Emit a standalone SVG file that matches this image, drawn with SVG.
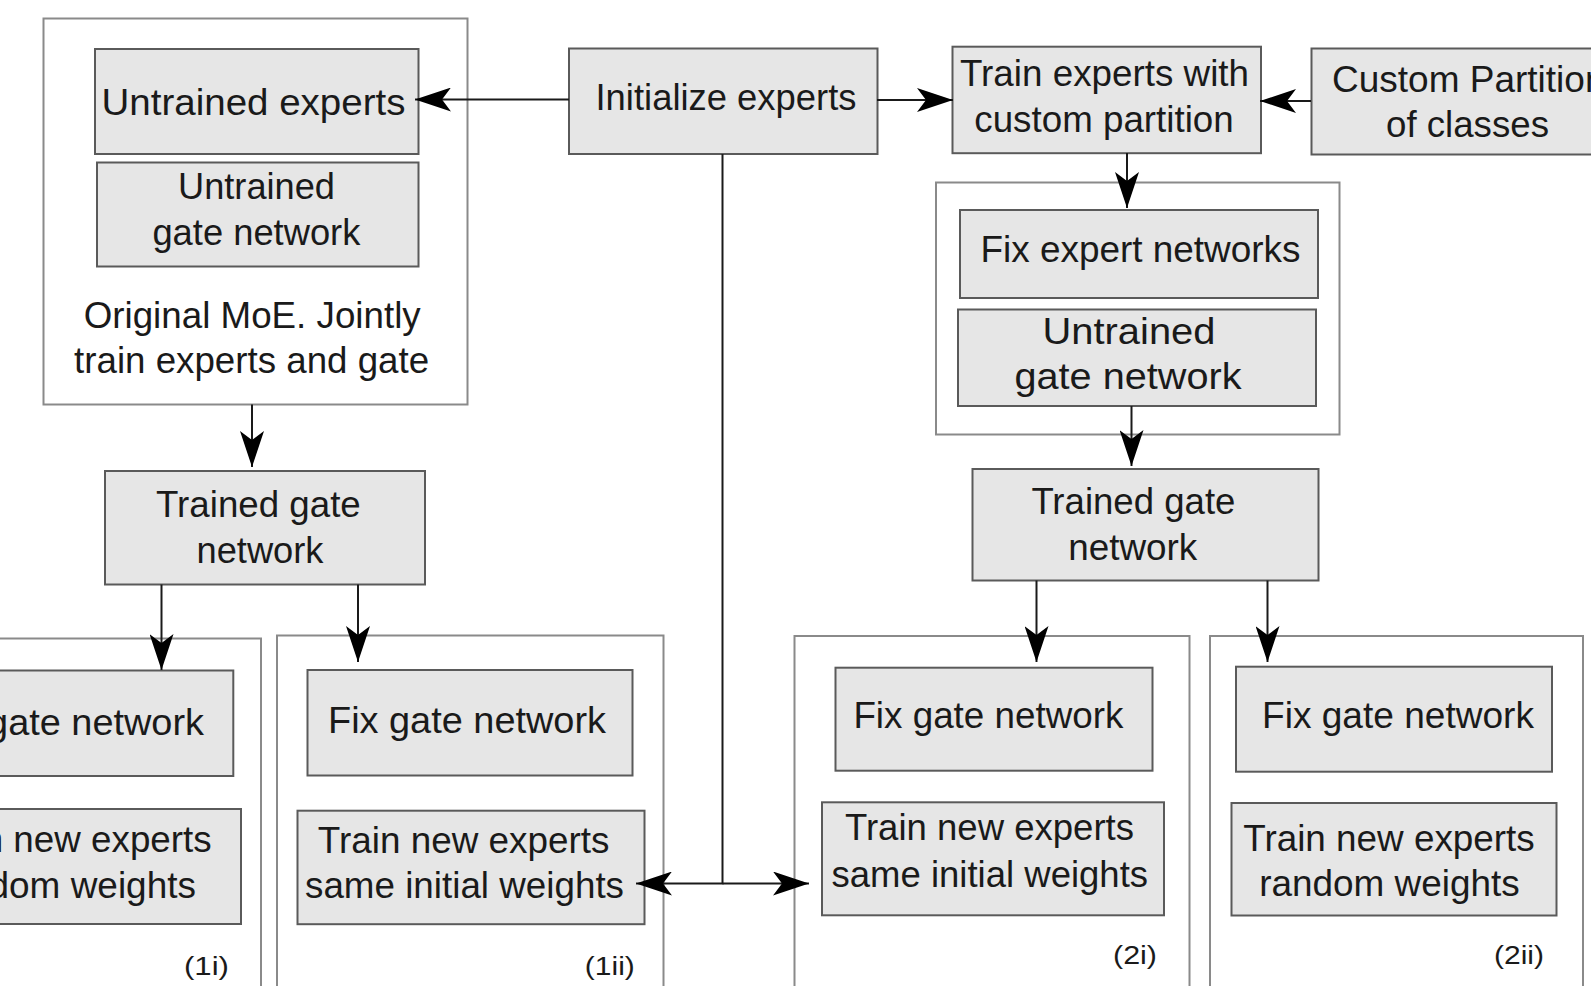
<svg xmlns="http://www.w3.org/2000/svg" width="1591" height="986" viewBox="0 0 1591 986">
<defs>
<style>
.cont{fill:#ffffff;stroke:#8a8a8a;stroke-width:2}
.box{fill:#e6e6e6;stroke:#5a5a5a;stroke-width:2}
.t{font-family:"Liberation Sans",Arial,Helvetica,sans-serif;font-size:37px;fill:#1a1a1a;text-anchor:middle}
.s{font-family:"Liberation Sans",Arial,Helvetica,sans-serif;font-size:26px;fill:#1a1a1a;text-anchor:middle}
.e{text-anchor:end}
.st{text-anchor:start}
.ln{fill:none;stroke:#1a1a1a;stroke-width:2}
</style>
<marker id="ah" markerUnits="userSpaceOnUse" markerWidth="36" markerHeight="24" viewBox="0 0 36 24" refX="36" refY="12" orient="auto">
<path d="M0,0 L36,12 L0,24 L9,12 Z" fill="#000"/>
</marker>
</defs>
<rect width="1591" height="986" fill="#ffffff"/>

<g id="container-original">
<rect class="cont" x="43.5" y="18.5" width="424" height="386"/>
<text class="t" x="252.2" y="328.3" textLength="337" lengthAdjust="spacingAndGlyphs">Original MoE. Jointly</text>
<text class="t" x="251.6" y="373.3" textLength="355" lengthAdjust="spacingAndGlyphs">train experts and gate</text>
</g>
<g id="container-right-top"><rect class="cont" x="936" y="182.5" width="403.5" height="252"/></g>
<g id="container-1i">
<rect class="cont" x="-130" y="638.5" width="391" height="400"/>
<text class="s" x="206.5" y="975" textLength="45" lengthAdjust="spacingAndGlyphs">(1i)</text>
</g>
<g id="container-1ii">
<rect class="cont" x="277" y="635.5" width="386.5" height="400"/>
<text class="s" x="609.8" y="975" textLength="50" lengthAdjust="spacingAndGlyphs">(1ii)</text>
</g>
<g id="container-2i">
<rect class="cont" x="794.5" y="636" width="395" height="400"/>
<text class="s" x="1135" y="963.5" textLength="44" lengthAdjust="spacingAndGlyphs">(2i)</text>
</g>
<g id="container-2ii">
<rect class="cont" x="1210" y="636" width="373" height="400"/>
<text class="s" x="1519" y="963.5" textLength="50" lengthAdjust="spacingAndGlyphs">(2ii)</text>
</g>

<g id="untrained-experts">
<rect class="box" x="95" y="49" width="323.5" height="105"/>
<text class="t" x="253.5" y="115" textLength="304" lengthAdjust="spacingAndGlyphs">Untrained experts</text>
</g>
<g id="untrained-gate-left">
<rect class="box" x="97" y="162.5" width="321.5" height="104"/>
<text class="t" x="256.5" y="199.3" textLength="157" lengthAdjust="spacingAndGlyphs">Untrained</text>
<text class="t" x="256.4" y="245" textLength="208" lengthAdjust="spacingAndGlyphs">gate network</text>
</g>
<g id="initialize-experts">
<rect class="box" x="569" y="48.5" width="308.5" height="105.5"/>
<text class="t" x="726" y="110" textLength="261" lengthAdjust="spacingAndGlyphs">Initialize experts</text>
</g>
<g id="train-experts-custom">
<rect class="box" x="952.5" y="46.7" width="308.5" height="106.5"/>
<text class="t" x="1104.5" y="86" textLength="289" lengthAdjust="spacingAndGlyphs">Train experts with</text>
<text class="t" x="1104" y="131.7" textLength="259.4" lengthAdjust="spacingAndGlyphs">custom partition</text>
</g>
<g id="custom-partition">
<rect class="box" x="1311.5" y="48.5" width="300" height="106"/>
<text class="t st" x="1332" y="92">Custom Partition</text>
<text class="t" x="1467.5" y="137" textLength="163" lengthAdjust="spacingAndGlyphs">of classes</text>
</g>
<g id="fix-expert-networks">
<rect class="box" x="960" y="210" width="358" height="88"/>
<text class="t" x="1140.5" y="261.7" textLength="320" lengthAdjust="spacingAndGlyphs">Fix expert networks</text>
</g>
<g id="untrained-gate-right">
<rect class="box" x="958" y="309.5" width="358" height="96.5"/>
<text class="t" x="1129" y="344" textLength="173" lengthAdjust="spacingAndGlyphs">Untrained</text>
<text class="t" x="1128" y="389" textLength="227" lengthAdjust="spacingAndGlyphs">gate network</text>
</g>
<g id="trained-gate-left">
<rect class="box" x="105" y="471" width="320" height="113.5"/>
<text class="t" x="258.4" y="517" textLength="204.7" lengthAdjust="spacingAndGlyphs">Trained gate</text>
<text class="t" x="260" y="563" textLength="127" lengthAdjust="spacingAndGlyphs">network</text>
</g>
<g id="trained-gate-right">
<rect class="box" x="972.5" y="469" width="346" height="111.5"/>
<text class="t" x="1133.4" y="514" textLength="204" lengthAdjust="spacingAndGlyphs">Trained gate</text>
<text class="t" x="1132.8" y="560" textLength="129" lengthAdjust="spacingAndGlyphs">network</text>
</g>
<g id="fix-gate-1i">
<rect class="box" x="-93" y="670.5" width="326.3" height="105.5"/>
<text class="t e" x="204" y="735" textLength="278" lengthAdjust="spacingAndGlyphs">Fix gate network</text>
</g>
<g id="train-new-1i">
<rect class="box" x="-105" y="809" width="346" height="115"/>
<text class="t e" x="211.7" y="851.7" textLength="291" lengthAdjust="spacingAndGlyphs">Train new experts</text>
<text class="t e" x="196" y="898.3" textLength="261" lengthAdjust="spacingAndGlyphs">random weights</text>
</g>
<g id="fix-gate-1ii">
<rect class="box" x="307.5" y="670" width="325" height="105.5"/>
<text class="t" x="467" y="732.5" textLength="278" lengthAdjust="spacingAndGlyphs">Fix gate network</text>
</g>
<g id="train-new-1ii">
<rect class="box" x="297.5" y="810.7" width="347" height="113.5"/>
<text class="t" x="463.6" y="852.6" textLength="291.5" lengthAdjust="spacingAndGlyphs">Train new experts</text>
<text class="t" x="464.5" y="898" textLength="319" lengthAdjust="spacingAndGlyphs">same initial weights</text>
</g>
<g id="fix-gate-2i">
<rect class="box" x="835.5" y="667.7" width="317" height="103"/>
<text class="t" x="988.4" y="728.3" textLength="270" lengthAdjust="spacingAndGlyphs">Fix gate network</text>
</g>
<g id="train-new-2i">
<rect class="box" x="822" y="802.3" width="342" height="113"/>
<text class="t" x="989.5" y="840.4" textLength="289" lengthAdjust="spacingAndGlyphs">Train new experts</text>
<text class="t" x="989.8" y="887.4" textLength="316.5" lengthAdjust="spacingAndGlyphs">same initial weights</text>
</g>
<g id="fix-gate-2ii">
<rect class="box" x="1236" y="666.7" width="316" height="105"/>
<text class="t" x="1398" y="728.3" textLength="272" lengthAdjust="spacingAndGlyphs">Fix gate network</text>
</g>
<g id="train-new-2ii">
<rect class="box" x="1231.5" y="803" width="325" height="112.5"/>
<text class="t" x="1389" y="850.9" textLength="291.5" lengthAdjust="spacingAndGlyphs">Train new experts</text>
<text class="t" x="1389.5" y="896" textLength="260.7" lengthAdjust="spacingAndGlyphs">random weights</text>
</g>

<g id="connectors">
<path class="ln" d="M569,99.5 H415" marker-end="url(#ah)"/>
<path class="ln" d="M877,100 H953" marker-end="url(#ah)"/>
<path class="ln" d="M1311,101 H1260" marker-end="url(#ah)"/>
<path class="ln" d="M1127,153 V208" marker-end="url(#ah)"/>
<path class="ln" d="M1131.5,406 V466" marker-end="url(#ah)"/>
<path class="ln" d="M252,404.5 V467" marker-end="url(#ah)"/>
<path class="ln" d="M161.5,584.5 V670" marker-end="url(#ah)"/>
<path class="ln" d="M358,584.5 V662" marker-end="url(#ah)"/>
<path class="ln" d="M1036.5,580.5 V662" marker-end="url(#ah)"/>
<path class="ln" d="M1267.5,580.5 V662" marker-end="url(#ah)"/>
<path class="ln" d="M722.5,154 V883.5 H636" marker-end="url(#ah)"/>
<path class="ln" d="M722.5,883.5 H809" marker-end="url(#ah)"/>
</g>
</svg>
